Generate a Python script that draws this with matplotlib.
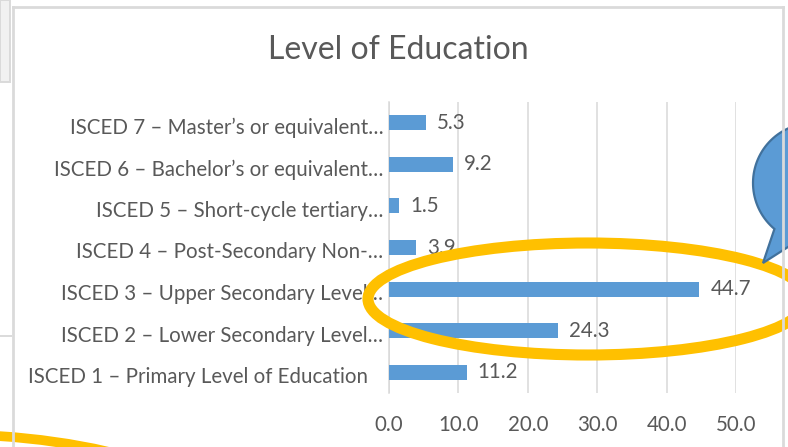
import numpy as np
import matplotlib
matplotlib.use("Agg")
import matplotlib.pyplot as plt
from matplotlib.patches import Ellipse, Rectangle, PathPatch
from matplotlib.path import Path
from matplotlib.transforms import ScaledTranslation

plt.rcParams['font.family'] = ['Lato', 'DejaVu Sans']

# data (bottom -> top, as drawn)
categories = [
    "ISCED 1 \u2013 Primary Level of Education",
    "ISCED 2 \u2013 Lower Secondary Level\u2026",
    "ISCED 3 \u2013 Upper Secondary Level\u2026",
    "ISCED 4 \u2013 Post-Secondary Non-\u2026",
    "ISCED 5 \u2013 Short-cycle tertiary\u2026",
    "ISCED 6 \u2013 Bachelor\u2019s or equivalent\u2026",
    "ISCED 7 \u2013 Master\u2019s or equivalent\u2026",
]
values = [11.2, 24.3, 44.7, 3.9, 1.5, 9.2, 5.3]
xticks = [0, 10, 20, 30, 40, 50]

BAR = "#5B9BD5"
TXT = "#595959"
GRID = "#D9D9D9"
W, H = 788, 447
FS = 14.8

fig = plt.figure(figsize=(W / 100, H / 100), dpi=100)
fig.patch.set_facecolor("white")

ax = fig.add_axes([389 / W, 1 - 393 / H, 347 / W, 291 / H])
y = np.arange(len(categories))
ax.barh(y, values, height=0.36, color=BAR, zorder=3)
for yi, v in zip(y, values):
    ax.annotate(f"{v:.1f}", (v, yi), xytext=(8, 0), textcoords="offset points",
                va="center", ha="left", fontsize=FS, color=TXT)
ax.set_xlim(0, 50)
ax.set_ylim(-0.5, len(categories) - 0.5)
ax.set_xticks(xticks)
ax.set_xticklabels([f"{t:.1f}" for t in xticks])
ax.set_yticks(y)
ax.set_yticklabels(categories)
ax.tick_params(axis="both", length=0, labelsize=FS, labelcolor=TXT)
ax.tick_params(axis="y", pad=4)
ax.tick_params(axis="x", pad=16)
ax.grid(axis="x", color=GRID, lw=1.1, zorder=0)
for s in ["top", "right", "bottom"]:
    ax.spines[s].set_visible(False)
ax.spines["left"].set_color(GRID)
ax.spines["left"].set_linewidth(1.1)
ax.set_facecolor("none")
# category labels sit a touch below the bars; the full bottom label further left
for i, lbl in enumerate(ax.get_yticklabels()):
    dx = -0.15 if i == 0 else 0.0
    lbl.set_transform(lbl.get_transform() + ScaledTranslation(dx, -0.03, fig.dpi_scale_trans))

fig.text(398 / W, 1 - 50 / H, "Level of Education", ha="center", va="center",
         fontsize=23, color=TXT)

# screenshot decorations, drawn in pixel coordinates
ov = fig.add_axes([0, 0, 1, 1], zorder=10)
ov.set_xlim(0, W)
ov.set_ylim(H, 0)
ov.axis("off")
ov.patch.set_alpha(0)

frame = "#DADADA"
ov.add_patch(Rectangle((0, 0), 10, 82, facecolor="#F1F1F1", edgecolor=frame, lw=1.4))
ov.plot([13, 13], [7, H], color=frame, lw=2)
ov.plot([13, 783], [7, 7], color=frame, lw=2)
ov.plot([783, 783], [7, H], color=frame, lw=2)
ov.plot([0, 11], [336, 336], color=frame, lw=1.4)

ORANGE = "#FFC000"
ov.add_patch(Ellipse((588, 299), 440, 112, fill=False, edgecolor=ORANGE, lw=8))
ov.add_patch(Ellipse((-60, 537), 600, 206, fill=False, edgecolor=ORANGE, lw=7))

# speech bubble
cx, cy, r = 813, 183, 60
th = np.radians(np.linspace(130, 360 + 105, 120))
pts = list(zip(cx + r * np.cos(th), cy + r * np.sin(th)))
pts.append((763, 263))
pts.append(pts[0])
codes = [Path.MOVETO] + [Path.LINETO] * (len(pts) - 2) + [Path.CLOSEPOLY]
ov.add_patch(PathPatch(Path(pts, codes), facecolor=BAR, edgecolor="#41719C", lw=1.6))

fig.savefig("out.png", dpi=100)
